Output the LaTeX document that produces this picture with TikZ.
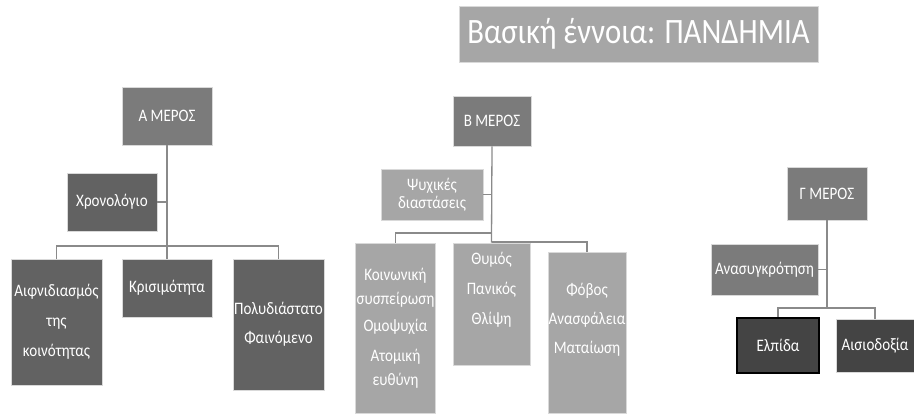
\documentclass[tikz,border=0pt]{standalone}
\usepackage{fontspec}
\setmainfont{Carlito}[FakeStretch=0.86]
\usepackage{xcolor}
\usetikzlibrary{positioning}

\definecolor{pale}{HTML}{A6A6A6}
\definecolor{mid}{HTML}{7B7B7B}
\definecolor{dark}{HTML}{626262}
\definecolor{darker}{HTML}{444444}
\definecolor{wire}{HTML}{8A8A8A}

\begin{document}
\begin{tikzpicture}[x=1pt,y=-1pt,
  box/.style={draw=gray!30,line width=0.8pt,text=white,inner sep=1pt,align=center,
    font=\fontsize{17.5}{21}\selectfont},
  boxtext/.style={text=white,inner sep=0pt,align=center,font=\fontsize{17.5}{21}\selectfont},
  wire/.style={draw=wire,line width=1.3pt}]
\useasboundingbox (0,0) rectangle (914,414);

% title
\node[box,fill=pale,minimum width=359pt,minimum height=56pt,
  font=\fontsize{35.7}{40}\selectfont] (title) at (638.5,34) {Βασική έννοια: ΠΑΝΔΗΜΙΑ};

% A
\node[box,fill=mid,minimum width=90pt,minimum height=58pt] (amer) at (167,116) {Α ΜΕΡΟΣ};
\node[box,fill=dark,minimum width=90pt,minimum height=58pt] (xron) at (112,202) {Χρονολόγιο};
\node[box,fill=dark,minimum width=91pt,minimum height=126pt] (aifn) at (56.5,322)
  {Αιφνιδιασμός\\[9pt]της\\[9pt]κοινότητας};
\node[box,fill=dark,minimum width=90pt,minimum height=58pt] (kris) at (167,288) {Κρισιμότητα};
\node[box,fill=dark,minimum width=91pt,minimum height=131pt] (pol) at (278.5,324.5)
  {Πολυδιάστατο\\[8pt]Φαινόμενο};
\coordinate (abar) at (167,246);
\draw[wire] (amer.south) -- (kris.north);
\draw[wire] (abar) -| (aifn.north);
\draw[wire] (abar) -| (pol.north);
\draw[wire] (xron.east) -- (xron.east -| abar);

% B
\node[box,fill=mid,minimum width=78pt,minimum height=50pt] (bmer) at (492,121) {Β ΜΕΡΟΣ};
\node[box,fill=pale,minimum width=102pt,minimum height=51pt,
  font=\fontsize{17.5}{18.5}\selectfont] (psy) at (432,194.5) {Ψυχικές\\διαστάσεις};
\node[box,fill=pale,minimum width=77pt,minimum height=170pt,
  font=\fontsize{17.5}{24}\selectfont] (koin) at (395.5,328)
  {Κοινωνική\\συσπείρωση\\[3pt]Ομοψυχία\\[6pt]Ατομική\\ευθύνη};
\node[box,fill=pale,minimum width=77pt,minimum height=122pt] (thym) at (491.5,304) {};
\node[boxtext,font=\fontsize{17.5}{30}\selectfont] (thymtxt) at (491.5,290)
  {Θυμός\\Πανικός\\Θλίψη};
\node[box,fill=pale,minimum width=78pt,minimum height=161pt] (fob) at (587,333) {};
\node[boxtext,font=\fontsize{17.5}{29}\selectfont] (fobtxt) at (587,320)
  {Φόβος\\Ανασφάλεια\\Ματαίωση};
\coordinate (bbar) at (492,233);
\coordinate (bbarr) at (492,242);
\draw[wire] (bmer.south) -- (thym.north);
\draw[wire] (bbar) -| (koin.north);
\draw[wire] (bbarr) -| (fob.north);
\draw[wire] (psy.east) -- (psy.east -| bbar);

% C
\node[box,fill=mid,minimum width=80pt,minimum height=53pt] (gmer) at (827,193.5) {Γ ΜΕΡΟΣ};
\node[box,fill=mid,minimum width=107pt,minimum height=51pt] (anas) at (764.5,269.5) {Ανασυγκρότηση};
\node[box,fill=darker,draw=black,line width=1.3pt,minimum width=82pt,minimum height=55pt] (elp) at (778,345.5) {Ελπίδα};
\node[box,fill=darker,minimum width=78pt,minimum height=53pt] (ais) at (875,345.5) {Αισιοδοξία};
\coordinate (gbar) at (827,308);
\draw[wire] (gmer.south) -- (gbar);
\draw[wire] (gbar) -| (elp.north);
\draw[wire] (gbar) -| (ais.north);
\draw[wire] (anas.east) -- (anas.east -| gbar);
\end{tikzpicture}
\end{document}
